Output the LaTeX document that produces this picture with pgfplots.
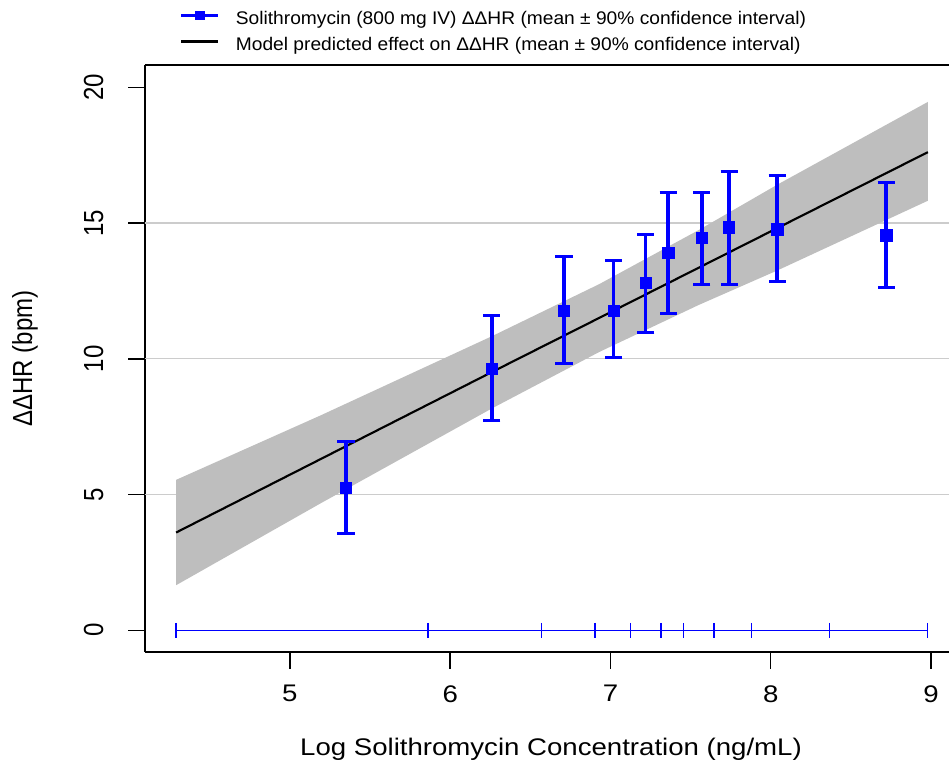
\documentclass[border=0pt]{standalone}
\usepackage{pgfplots}
\pgfplotsset{compat=1.18}
\usepackage{pgfplotstable}
\usepackage{fontspec}
\setmainfont{Liberation Sans}
\newfontfamily\hfont{Liberation Sans}[FakeStretch=1.15]
\newfontfamily\vfont{Liberation Sans}[FakeStretch=0.87]
\newfontfamily\lfont{Liberation Sans}[FakeStretch=1.05]
\newcommand\xfont{\fontsize{18}{21}\selectfont\hfont}
\newcommand\yfont{\fontsize{20.7}{24}\selectfont\vfont}
\newcommand\legfont{\fontsize{13.7}{16}\selectfont\lfont}
\definecolor{bandgray}{HTML}{BEBEBE}
\definecolor{gridgray}{HTML}{CCCCCC}

\pgfplotstableread{
x y ep em
5.35 5.25 1.70 1.70
6.26 9.62 1.99 1.89
6.71 11.78 1.99 1.94
7.02 11.78 1.84 1.75
7.22 12.79 1.78 1.82
7.36 13.90 2.23 2.24
7.57 14.45 1.68 1.72
7.74 14.84 2.07 2.11
8.04 14.77 1.98 1.92
8.72 14.55 1.93 1.92
}\obs

\begin{document}
\begin{tikzpicture}
\begin{axis}[
  name=ax,
  scale only axis,
  width=603pt, height=440.25pt,
  xmin=4.096, xmax=9.112,
  ymin=-0.8, ymax=20.82,
  axis x line*=box,
  axis y line*=left,
  xtick pos=left, ytick pos=left,
  xtick={5,6,7,8,9},
  ytick={0,5,10,15,20},
  tick align=outside,
  major tick length=12.4pt,
  axis line style={line width=1.1pt, black},
  every tick/.style={line width=1.1pt, black},
  /pgf/number format/assume math mode=true,
  xticklabel style={font=\xfont, inner sep=0pt, anchor=north},
  xticklabel shift=12.35pt,
  yticklabel style={font=\yfont, inner sep=0pt, rotate=90, anchor=south},
  yticklabel shift=18.6pt,
  extra y ticks={5,10,15},
  extra y tick labels={,,},
  extra y tick style={grid=major, major tick length=0pt},
  major grid style={color=gridgray, line width=0.9pt},
  xlabel={Log Solithromycin Concentration (ng/mL)},
  ylabel={ΔΔHR (bpm)},
  every axis x label/.style={at={(axis description cs:0.505,-0.17547)}, anchor=base, font=\xfont},
  every axis y label/.style={at={(axis description cs:-0.1405,0.5)}, rotate=90, anchor=base, font=\yfont},
  legend style={at={(axis description cs:0.04353,1)}, anchor=south west, yshift=10.9pt,
    draw=none, fill=none, inner sep=0pt, outer sep=0pt, font=\legfont,
    row sep=6.3pt, column sep=12.2pt,
    nodes={inner sep=0pt, text height=13pt, text depth=0.2pt, anchor=west}},
  legend cell align=left,
  legend image code/.code={\draw[mark repeat=2,mark phase=2,#1] plot coordinates {(0pt,0pt) (13.9pt,0pt) (27.75pt,0pt)};},
]
\addlegendimage{blue, line width=2pt, mark=square*, mark size=2.6pt, mark options={solid}}
\addlegendentry{Solithromycin (800 mg IV) ΔΔHR (mean ± 90\% confidence interval)}
\addlegendimage{black, line width=2pt}
\addlegendentry{Model predicted effect on ΔΔHR (mean ± 90\% confidence interval)}

% confidence band
\addplot[fill=bandgray, draw=none, forget plot] coordinates {
 (4.29,5.54) (5.19,7.91) (6.26,10.83) (6.93,12.75) (7.55,14.74) (8.04,16.41) (8.98,19.46)
 (8.98,15.82) (8.04,13.25) (7.55,11.98) (6.93,10.25) (6.26,8.17) (5.19,4.67) (4.29,1.66)
} -- cycle;

% model line
\addplot[black, line width=1.6pt, forget plot] coordinates {(4.29,3.60) (6.26,9.51) (8.98,17.61)};

% concentration bins
\addplot[blue, line width=1.1pt, mark=|, mark size=5.6pt, mark options={solid, line width=1.1pt}, forget plot] coordinates {
 (4.290,0) (5.861,0) (6.569,0) (6.903,0) (7.126,0) (7.315,0) (7.457,0) (7.647,0) (7.879,0) (8.365,0) (8.977,0)};

% observed means with 90% CI
\addplot[blue, only marks, mark=square*, mark size=4.2pt, forget plot,
  error bars/.cd, y dir=both, y explicit,
  error bar style={blue, line width=2.6pt},
  error mark options={blue, rotate=90, mark size=6.4pt, line width=2.3pt}]
  table[x=x, y=y, y error plus=ep, y error minus=em]{\obs};
\end{axis}
\pgfresetboundingbox
\path[use as bounding box] ([shift={(-108.75pt,-84pt)}]ax.south west) rectangle ([shift={(0pt,48.75pt)}]ax.north east);
\end{tikzpicture}
\end{document}
